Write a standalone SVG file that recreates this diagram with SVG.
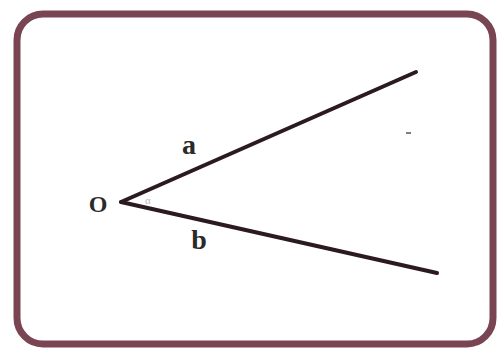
<svg xmlns="http://www.w3.org/2000/svg" width="498" height="349" viewBox="0 0 498 349">
<style>
.lbl{font-family:"Liberation Serif","Times New Roman",serif;font-weight:bold;fill:#2a2a2a;}
.ray{stroke:#2b1b20;stroke-width:4;stroke-linecap:round;fill:none;}
</style>
<rect x="0" y="0" width="498" height="349" fill="#ffffff"/>
<g id="frame">
<rect x="17" y="14" width="476" height="330" rx="26" ry="26" fill="#ffffff" stroke="#7a4552" stroke-width="7"/>
</g>
<g id="connectors">
<line class="ray" x1="121" y1="202" x2="416" y2="72"/>
<line class="ray" x1="121" y1="202" x2="437" y2="273"/>
</g>
<g id="node-O">
<text class="lbl" x="98" y="212" font-size="24" text-anchor="middle">O</text>
</g>
<g id="label-a">
<text class="lbl" x="189" y="154" font-size="28" text-anchor="middle">a</text>
</g>
<g id="label-b">
<text class="lbl" x="199" y="249" font-size="28" text-anchor="middle">b</text>
</g>
<g id="angle-mark">
<text x="148" y="204" font-family="Liberation Serif, serif" font-size="11" fill="#b8b8b8" text-anchor="middle">α</text>
</g>
<line x1="406" y1="133" x2="411" y2="133" stroke="#555" stroke-width="1.5"/>
</svg>
